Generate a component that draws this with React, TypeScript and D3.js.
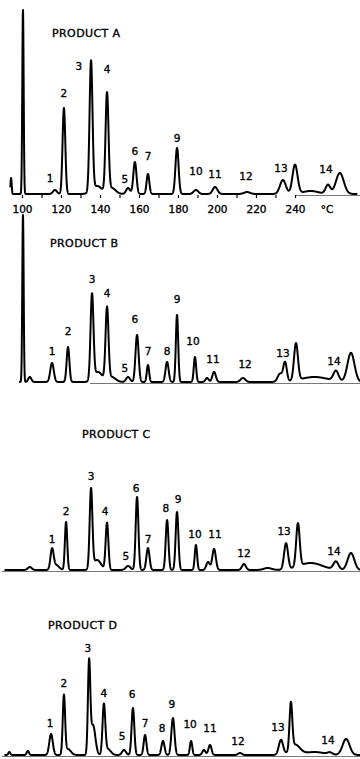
import React, { FC, useEffect, useRef } from "react"
import { scaleLinear, line, range, select, axisBottom } from "d3"

// peaks: [temperature °C, height, width (sigma °C)]
const peaksA: [number, number, number][] = [
  [94.4, 16, 0.3],
  [100.5, 184, 0.35],
  [116.9, 4, 1.0],
  [121.5, 86, 0.7],
  [135.4, 130, 0.75],
  [138.5, 8, 2.5],
  [143.6, 98, 0.75],
  [146, 6, 2],
  [154.4, 6, 1.0],
  [157.9, 32, 0.8],
  [164.6, 20, 0.7],
  [179.5, 46, 0.8],
  [189.2, 4, 1.2],
  [199, 7, 1.2],
  [215.4, 2, 1.5],
  [233.8, 14, 1.5],
  [240, 29, 1.3],
  [248, 3, 4],
  [256.9, 9, 1.2],
  [263, 21, 2],
]

const peaksB: [number, number, number][] = [
  [100.5, 167, 0.35],
  [104, 5, 0.8],
  [115.4, 19, 0.9],
  [123.6, 35, 0.7],
  [135.9, 85, 0.75],
  [139, 10, 2.2],
  [143.6, 72, 0.75],
  [146, 5, 2],
  [154.4, 5, 1.0],
  [159, 47, 0.8],
  [164.6, 17, 0.6],
  [174.4, 20, 0.8],
  [179.5, 67, 0.6],
  [188.7, 25, 0.6],
  [194.9, 4, 0.8],
  [198.5, 10, 0.9],
  [213.3, 4, 1.2],
  [232.3, 8, 1.2],
  [234.9, 19, 0.9],
  [240.5, 37, 1.0],
  [250, 5, 7],
  [261, 10, 1.3],
  [268.7, 29, 1.8],
]

const peaksC: [number, number, number][] = [
  [104, 3, 1.0],
  [115.4, 20, 0.8],
  [117.5, 5, 1.5],
  [122.6, 48, 0.6],
  [135.4, 79, 0.7],
  [138.5, 10, 2],
  [143.6, 47, 0.7],
  [154.4, 4, 1.2],
  [159, 73, 0.7],
  [164.6, 22, 0.8],
  [174.4, 50, 0.7],
  [179.5, 58, 0.7],
  [189.2, 25, 0.6],
  [195.4, 8, 0.9],
  [198.5, 21, 0.9],
  [213.8, 6, 1.0],
  [226, 2, 2],
  [235.4, 26, 1.0],
  [241.5, 43, 0.9],
  [248, 7, 6],
  [261, 8, 1.3],
  [268.7, 17, 1.7],
]

const peaksD: [number, number, number][] = [
  [93.5, 3, 0.5],
  [103, 4, 0.6],
  [114.9, 21, 0.9],
  [121.5, 58, 0.6],
  [123.5, 6, 1.5],
  [134.4, 89, 0.6],
  [136.4, 30, 1.2],
  [142, 49, 0.7],
  [144, 6, 1.5],
  [152.3, 5, 1.0],
  [156.9, 47, 0.7],
  [163.1, 20, 0.7],
  [172.3, 14, 0.8],
  [177.4, 37, 0.8],
  [186.7, 14, 0.6],
  [193.3, 5, 0.8],
  [196.4, 10, 0.8],
  [211.8, 2, 1.0],
  [232.8, 15, 1.1],
  [237.9, 46, 0.7],
  [240, 10, 2.5],
  [250, 3, 5],
  [257.9, 2, 1.2],
  [266.2, 16, 1.8],
]

// peak labels: [text, temperature °C, height]
const labelsA: [string, number, number][] = [
  ["1", 114.4, 12], ["2", 121.5, 97], ["3", 129.2, 124], ["4", 143.6, 121],
  ["5", 152.8, 11], ["6", 157.9, 39], ["7", 164.6, 34], ["9", 179.5, 52],
  ["10", 189.2, 19], ["11", 199, 16], ["12", 214.9, 14], ["13", 232.8, 22],
  ["14", 255.9, 21],
]
const labelsB: [string, number, number][] = [
  ["1", 115.4, 27], ["2", 123.6, 47], ["3", 135.9, 99], ["4", 143.6, 85],
  ["5", 152.8, 10], ["6", 157.9, 59], ["7", 164.6, 27], ["8", 174.4, 27],
  ["9", 179.5, 79], ["10", 187.7, 37], ["11", 197.9, 19], ["12", 214.4, 14],
  ["13", 233.8, 25], ["14", 260, 17],
]
const labelsC: [string, number, number][] = [
  ["1", 115.4, 27], ["2", 122.6, 55], ["3", 135.4, 90], ["4", 142.6, 55],
  ["5", 153.3, 10], ["6", 158.5, 78], ["7", 164.6, 27], ["8", 173.8, 58],
  ["9", 180, 67], ["10", 188.7, 32], ["11", 199, 32], ["12", 213.8, 13],
  ["13", 234.4, 35], ["14", 260, 15],
]
const labelsD: [string, number, number][] = [
  ["1", 114.4, 28], ["2", 121.5, 68], ["3", 133.8, 103], ["4", 142, 58],
  ["5", 151.3, 15], ["6", 156.4, 57], ["7", 163.1, 28], ["8", 171.8, 23],
  ["9", 176.9, 47], ["10", 186.2, 27], ["11", 196.4, 23], ["12", 210.8, 10],
  ["13", 231.3, 24], ["14", 256.9, 11],
]

const tempTicks = [100, 110, 120, 130, 140, 150, 160, 170, 180, 190, 200, 210, 220, 230, 240]

const W = 360
const H = 759
const font = "'DejaVu Sans', sans-serif"

const xScale = scaleLinear().domain([100, 240]).range([22, 295])

type Panel = {
  title: string
  titleX: number
  titleY: number
  base: number
  start: number
  end: number
  rule: [number, number]
  peaks: [number, number, number][]
  labels: [string, number, number][]
}

const panels: Panel[] = [
  { title: "PRODUCT A", titleX: 52, titleY: 37, base: 194, start: 94, end: 272, rule: [295, 360], peaks: peaksA, labels: labelsA },
  { title: "PRODUCT B", titleX: 50, titleY: 247, base: 382, start: 98.5, end: 274, rule: [90, 360], peaks: peaksB, labels: labelsB },
  { title: "PRODUCT C", titleX: 82, titleY: 438, base: 570, start: 91, end: 274, rule: [2, 360], peaks: peaksC, labels: labelsC },
  { title: "PRODUCT D", titleX: 48, titleY: 629, base: 755, start: 91, end: 274, rule: [2, 360], peaks: peaksD, labels: labelsD },
]

const signal = (t: number, peaks: [number, number, number][]) =>
  peaks.reduce((s, [c, h, w]) => s + h * Math.exp(-((t - c) ** 2) / (2 * w * w)), 0)

const textStyle = { fontFamily: font, fill: "#000", stroke: "#000", strokeWidth: 0.35 }

const Trace: FC<{ p: Panel }> = ({ p }) => {
  const yScale = scaleLinear().domain([0, 200]).range([p.base, p.base - 200])
  const pts = range(p.start, p.end, 0.05).map((t) => [t, signal(t, p.peaks)] as [number, number])
  const path = line<[number, number]>()
    .x((d) => xScale(d[0]))
    .y((d) => yScale(d[1]))(pts)
  return (
    <g>
      <line
        x1={p.rule[0]}
        x2={p.rule[1]}
        y1={p.base + 1.5}
        y2={p.base + 1.5}
        stroke="#555"
        strokeWidth={0.8}
      />
      <text x={p.titleX} y={p.titleY} fontSize={11} letterSpacing={0.4} style={textStyle}>
        {p.title}
      </text>
      <path d={path ?? ""} fill="none" stroke="#000" strokeWidth={2} strokeLinejoin="round" />
      {p.labels.map(([txt, t, h]) => (
        <text
          key={txt}
          x={xScale(t)}
          y={yScale(h)}
          textAnchor="middle"
          fontSize={10.5}
          style={textStyle}
        >
          {txt}
        </text>
      ))}
    </g>
  )
}

const App: FC = () => {
  const axisRef = useRef<SVGGElement>(null)

  useEffect(() => {
    const g = select(axisRef.current)
    g.selectAll("*").remove()
    g.call(
      axisBottom(xScale)
        .tickValues(tempTicks)
        .tickSize(3)
        .tickFormat((d) => ((d as number) % 20 === 0 ? String(d) : "")),
    )
    g.select(".domain").remove()
    g.selectAll(".tick line").attr("stroke", "#000").attr("stroke-width", 1.2)
    g.selectAll(".tick text")
      .attr("font-size", 10.5)
      .attr("font-family", font)
      .attr("fill", "#000")
      .attr("stroke", "#000")
      .attr("stroke-width", 0.35)
      .attr("y", 6)
      .attr("dy", "1.1em")
  }, [])

  return (
    <svg
      width={W}
      height={H}
      style={{ position: "absolute", left: 0, top: 0, background: "#fff" }}
    >
      {panels.map((p) => (
        <Trace key={p.title} p={p} />
      ))}
      <g ref={axisRef} transform="translate(0,195)" />
      <text x={327} y={212.5} textAnchor="middle" fontSize={10.5} style={textStyle}>
        °C
      </text>
    </svg>
  )
}

export default App
